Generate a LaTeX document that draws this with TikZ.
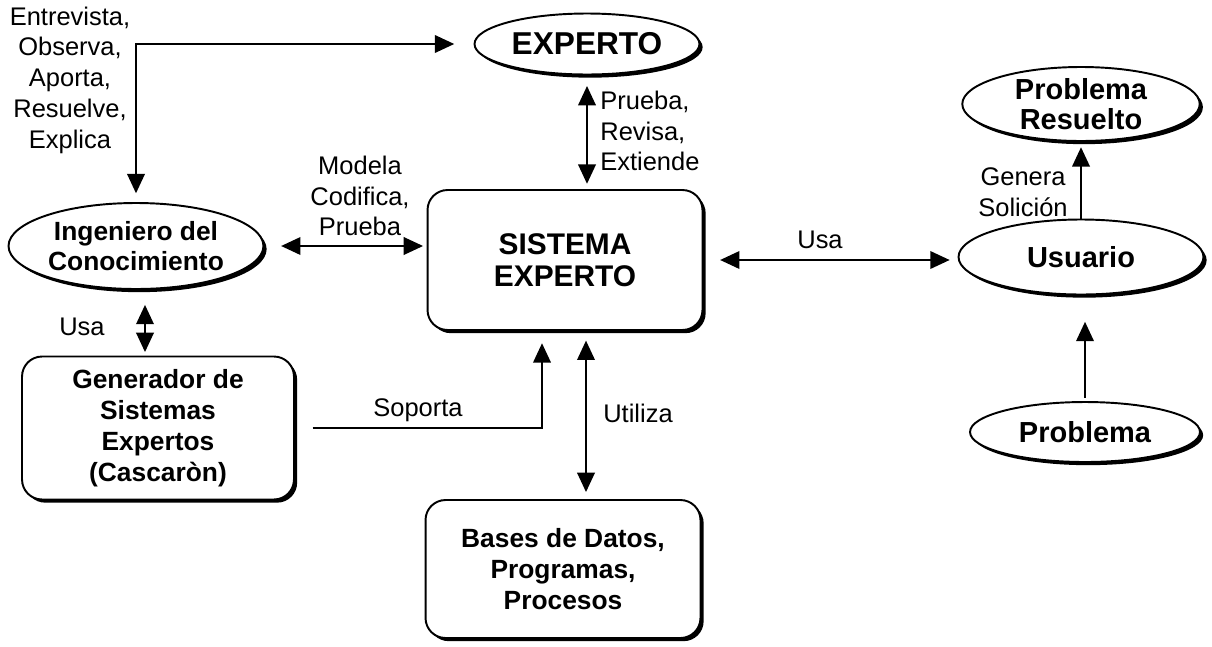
\documentclass[tikz,border=0pt]{standalone}
\usepackage{fontspec}
\setmainfont{Liberation Sans}
\usetikzlibrary{shapes.geometric,arrows.meta,shadows}

\tikzset{
  sombra/.style={drop shadow={shadow xshift=1.8pt, shadow yshift=-1.8pt, opacity=1, fill=black}},
  ovalo/.style={ellipse, draw, line width=1.1pt, fill=white, inner sep=0pt, sombra,
    align=center, font=\bfseries\fontsize{15}{17}\selectfont},
  caja/.style={rectangle, rounded corners=0.4cm, draw, line width=1.1pt, fill=white, inner sep=0pt, sombra,
    align=center, font=\bfseries\fontsize{15}{17.6}\selectfont},
  negra/.style={font=\bfseries\fontsize{16.5}{17}\selectfont},
  etiqueta/.style={inner sep=0pt, align=center, font=\fontsize{14.5}{17.5}\selectfont},
  flecha/.style={-{Triangle[length=11pt,width=10pt]}, line width=1pt},
  doble/.style={{Triangle[length=11pt,width=10pt]}-{Triangle[length=11pt,width=10pt]}, line width=1pt}
}

\begin{document}
\begin{tikzpicture}[x=0.02cm, y=-0.02cm]

\useasboundingbox (0,0) rectangle (1212,646);

% Nodos
\node[ovalo, negra, font=\bfseries\fontsize{18}{18}\selectfont, minimum width=4.5cm, minimum height=1.22cm] (experto) at (587,44)
{EXPERTO};

\node[caja, negra, font=\bfseries\fontsize{17}{18}\selectfont, minimum width=5.5cm, minimum height=2.8cm] (sistema) at (565,260)
{SISTEMA\\EXPERTO};

\node[ovalo, minimum width=5.1cm, minimum height=1.72cm] (ingeniero) at (136,246)
{Ingeniero del\\Conocimiento};

\node[caja, minimum width=5.44cm, minimum height=2.86cm] (generador) at (158,428)
{Generador de\\Sistemas\\Expertos\\(Cascaròn)};

\node[caja, minimum width=5.5cm, minimum height=2.76cm] (bases) at (563,569)
{Bases de Datos,\\Programas,\\Procesos};

\node[ovalo, negra, minimum width=4.9cm, minimum height=1.5cm] (usuario) at (1081,257)
{Usuario};

\node[ovalo, negra, minimum width=4.75cm, minimum height=1.48cm] (resuelto) at (1081,104)
{Problema\\Resuelto};

\node[ovalo, negra, minimum width=4.6cm, minimum height=1.2cm] (problema) at (1085,432)
{Problema};

% Conectores
\draw[doble, shorten <=5pt, shorten >=11pt]
(ingeniero.north) |- (experto.west);

\draw[doble, shorten <=6pt, shorten >=3pt]
(experto.south) -- (experto.south |- sistema.north);

\draw[doble, shorten <=9.5pt, shorten >=2pt]
(ingeniero.east) -- (ingeniero.east -| sistema.west);

\draw[doble, shorten <=8.5pt, shorten >=2pt]
([xshift=0.18cm]ingeniero.south) -- ([xshift=0.18cm]ingeniero.south |- generador.north);

\draw[flecha, shorten <=10pt, shorten >=7pt]
(generador.east) -| ([xshift=-0.46cm]sistema.south);

\draw[doble, shorten <=5.5pt, shorten >=4pt]
([xshift=0.42cm]sistema.south) -- ([xshift=0.42cm]sistema.south |- bases.north);

\draw[doble, shorten <=9.5pt, shorten >=4.5pt]
(sistema.east) -- (sistema.east -| usuario.west);

\draw[flecha, shorten >=3pt]
(usuario.north) -- (resuelto.south);

\draw[flecha, shorten <=2pt, shorten >=15pt]
(problema.north) -- (problema.north |- usuario.south);

% Etiquetas
\node[etiqueta] (lentrevista) at (70,80)
{Entrevista,\\Observa,\\Aporta,\\Resuelve,\\Explica};

\node[etiqueta, anchor=west, align=left] (lprueba) at (600,131)
{Prueba,\\Revisa,\\Extiende};

\node[etiqueta] (lmodela) at (360,196)
{Modela\\Codifica,\\Prueba};

\node[etiqueta] (lusa) at (82,327)
{Usa};

\node[etiqueta] (lsoporta) at (418,410)
{Soporta};

\node[etiqueta] (lutiliza) at (638,413)
{Utiliza};

\node[etiqueta] (lusa2) at (820,240)
{Usa};

\node[etiqueta] (lgenera) at (1023,192)
{Genera\\Solición};

\end{tikzpicture}
\end{document}
